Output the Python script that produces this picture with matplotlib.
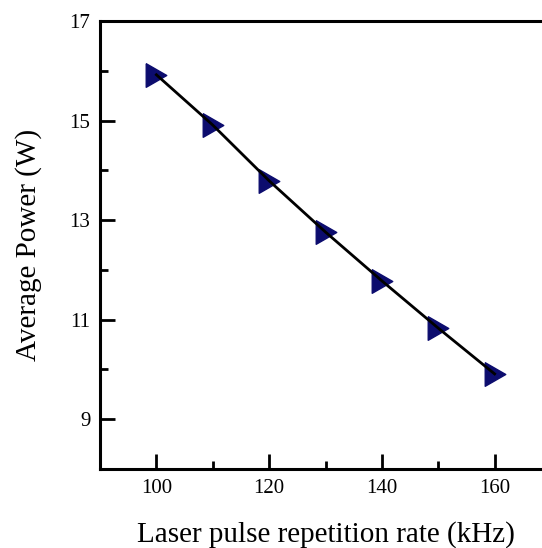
import matplotlib
matplotlib.use("Agg")
import matplotlib.pyplot as plt
from matplotlib.ticker import MultipleLocator

# data
rate_khz = [100, 110, 120, 130, 140, 150, 160]
avg_power_w = [15.92, 14.91, 13.79, 12.76, 11.78, 10.83, 9.91]

plt.rcParams['font.family'] = 'Liberation Serif'

fig = plt.figure(figsize=(5.42, 5.48), dpi=100)
ax = fig.add_axes([100 / 542, 1 - 469 / 548, 451 / 542, 448 / 548])

# right-pointing triangle, a little taller than wide
tri = [(-0.87, 1), (-0.87, -1), (0.87, 0), (-0.87, 1)]
ax.plot(rate_khz, avg_power_w, linestyle='none', marker=tri, markersize=17,
        markerfacecolor='#0c0c6e', markeredgecolor='#0c0c6e', zorder=2)
ax.plot(rate_khz, avg_power_w, color='black', linewidth=2, zorder=3)

ax.set_xlim(90, 170)
ax.set_ylim(8, 17)
ax.xaxis.set_major_locator(MultipleLocator(20))
ax.xaxis.set_minor_locator(MultipleLocator(10))
ax.yaxis.set_minor_locator(MultipleLocator(1))
ax.set_yticks([9, 11, 13, 15, 17])

for side in ['left', 'bottom', 'top']:
    ax.spines[side].set_linewidth(2.2)
ax.spines['right'].set_visible(False)

ax.tick_params(which='major', direction='in', length=11, width=2, labelsize=15, pad=7)
ax.tick_params(which='minor', direction='in', length=6, width=2)
ax.tick_params(top=False, right=False, which='both')

ax.set_xlabel('Laser pulse repetition rate (kHz)', fontsize=21, labelpad=17)
ax.set_ylabel('Average Power (W)', fontsize=21, labelpad=20)

fig.savefig('out.png', dpi=100)
